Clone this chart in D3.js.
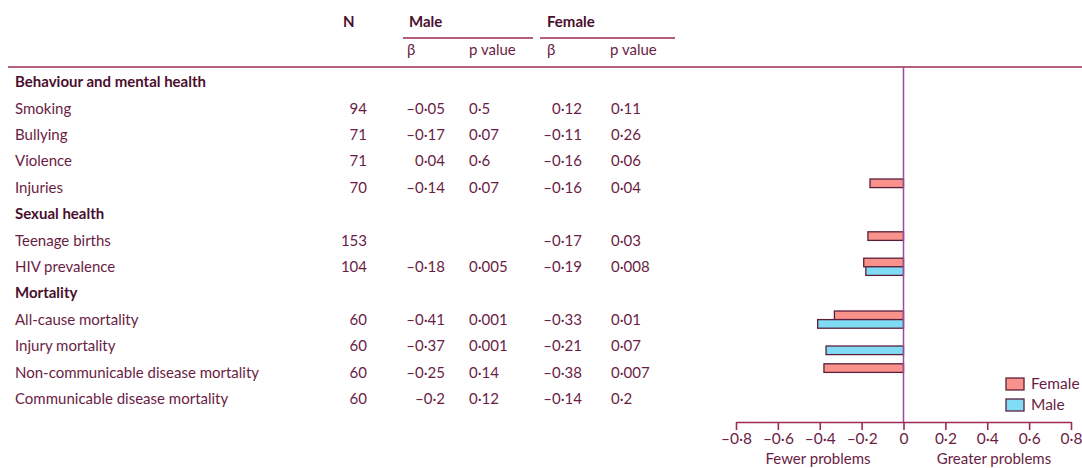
<!DOCTYPE html>
<html>
<head>
<meta charset="utf-8">
<script src="https://cdn.jsdelivr.net/npm/d3@7"></script>
<style>
  html, body { margin: 0; padding: 0; background: #fff; }
  svg { display: block; }
  text { font-family: Lato, "Open Sans", sans-serif; }
</style>
</head>
<body>
<svg id="chart" width="1082" height="468"></svg>
<script>
// Outcome rows (group headings included, in drawing order)
const rowLabels = [
  "Behaviour and mental health", "Smoking", "Bullying", "Violence", "Injuries",
  "Sexual health", "Teenage births", "HIV prevalence",
  "Mortality", "All-cause mortality", "Injury mortality",
  "Non-communicable disease mortality", "Communicable disease mortality"
];
const groupHeadings = ["Behaviour and mental health", "Sexual health", "Mortality"];
const nValues   = [null, 94, 71, 71, 70, null, 153, 104, null, 60, 60, 60, 60];
const maleBeta  = [null, -0.05, -0.17, 0.04, -0.14, null, null, -0.18, null, -0.41, -0.37, -0.25, -0.2];
const maleP     = [null, 0.5, 0.07, 0.6, 0.07, null, null, 0.005, null, 0.001, 0.001, 0.14, 0.12];
const femaleBeta = [null, 0.12, -0.11, -0.16, -0.16, null, -0.17, -0.19, null, -0.33, -0.21, -0.38, -0.14];
const femaleP    = [null, 0.11, 0.26, 0.06, 0.04, null, 0.03, 0.008, null, 0.01, 0.07, 0.007, 0.2];
const axisTicks = [-0.8, -0.6, -0.4, -0.2, 0, 0.2, 0.4, 0.6, 0.8];
const seriesNames = ["Female", "Male"];

const TEXT = "#6a1d44", BOLD = "#4a0f2e", RULE = "#9c2a55", ZERO = "#9a4aa0";
const FILL = { Female: "#f8928a", Male: "#80dcf4" };
const EDGE = "#5a1f3c";
const FS = 15;

const svg = d3.select("#chart");

// Lancet style numbers: en-dash minus and mid-dot decimal
const fmt = v => (v < 0 ? "\u2013" : "") + String(Math.abs(v)).replace(".", "\u00b7");

const y = d3.scaleLinear().domain([0, rowLabels.length - 1]).range([82, 398.8]);
const x = d3.scaleLinear().domain([-0.8, 0.8]).range([736, 1071]);

// Column headers
const head = svg.append("g").attr("font-size", FS);
head.append("text").attr("x", 343).attr("y", 22).attr("dy", "0.35em").attr("font-weight", 700).attr("fill", BOLD).text("N");
head.append("text").attr("x", 409).attr("y", 22).attr("dy", "0.35em").attr("font-weight", 700).attr("fill", BOLD).text("Male");
head.append("text").attr("x", 547).attr("y", 22).attr("dy", "0.35em").attr("font-weight", 700).attr("fill", BOLD).text("Female");
[[407, "\u03b2"], [469, "p value"], [547, "\u03b2"], [610, "p value"]].forEach(([cx, t]) => {
  head.append("text").attr("x", cx).attr("y", 50).attr("dy", "0.35em").attr("fill", TEXT).text(t);
});
svg.append("line").attr("x1", 403).attr("x2", 533).attr("y1", 38).attr("y2", 38).attr("stroke", RULE).attr("stroke-width", 1.4);
svg.append("line").attr("x1", 540).attr("x2", 675).attr("y1", 38).attr("y2", 38).attr("stroke", RULE).attr("stroke-width", 1.4);
svg.append("line").attr("x1", 8).attr("x2", 1082).attr("y1", 67).attr("y2", 67).attr("stroke", RULE).attr("stroke-width", 1.4);

// Table rows
const rows = svg.append("g").attr("font-size", FS).selectAll("g")
  .data(rowLabels.map((label, i) => ({ label, i })))
  .join("g")
  .attr("transform", d => `translate(0,${y(d.i)})`);

rows.append("text")
  .attr("x", 15).attr("dy", "0.35em")
  .attr("font-weight", d => groupHeadings.includes(d.label) ? 700 : 400)
  .attr("fill", d => groupHeadings.includes(d.label) ? BOLD : TEXT)
  .text(d => d.label);

const cell = (sel, xPos, anchor, getter) => sel.append("text")
  .attr("x", xPos).attr("dy", "0.35em").attr("text-anchor", anchor).attr("fill", TEXT)
  .text(d => { const v = getter(d.i); return v == null ? "" : fmt(v); });

cell(rows, 367, "end", i => nValues[i]);
cell(rows, 445, "end", i => maleBeta[i]);
cell(rows, 469, "start", i => maleP[i]);
cell(rows, 582, "end", i => femaleBeta[i]);
cell(rows, 611, "start", i => femaleP[i]);

// Bars for the significant associations (p < 0.05)
const barH = 8.6;
const bars = [];
rowLabels.forEach((label, i) => {
  if (femaleBeta[i] != null && femaleP[i] < 0.05) bars.push({ i, s: "Female", v: femaleBeta[i] });
  if (maleBeta[i] != null && maleP[i] < 0.05) bars.push({ i, s: "Male", v: maleBeta[i] });
});
svg.append("g").selectAll("rect").data(bars).join("rect")
  .attr("x", d => x(Math.min(0, d.v)))
  .attr("width", d => Math.abs(x(d.v) - x(0)))
  .attr("y", d => d.s === "Female" ? y(d.i) - barH : y(d.i))
  .attr("height", barH)
  .attr("fill", d => FILL[d.s])
  .attr("stroke", EDGE).attr("stroke-width", 1.3);

// Zero reference line
svg.append("line").attr("x1", x(0)).attr("x2", x(0)).attr("y1", 67).attr("y2", 422)
  .attr("stroke", ZERO).attr("stroke-width", 1.5);

// Bottom axis
const axis = d3.axisBottom(x).tickValues(axisTicks).tickSize(8).tickSizeOuter(0)
  .tickFormat(d => d === 0 ? "0" : fmt(+d.toFixed(1)));
const ax = svg.append("g").attr("transform", "translate(0,422)").call(axis);
ax.select(".domain").attr("stroke", RULE).attr("stroke-width", 1.6);
ax.selectAll(".tick line").attr("stroke", RULE).attr("stroke-width", 1.6);
ax.selectAll(".tick text").attr("fill", TEXT).attr("font-size", 15.5)
  .attr("font-family", "Lato, sans-serif").attr("y", 11);
svg.append("text").attr("x", 818).attr("y", 459).attr("dy", "0.35em").attr("text-anchor", "middle")
  .attr("font-size", FS).attr("fill", TEXT).text("Fewer problems");
svg.append("text").attr("x", 994).attr("y", 459).attr("dy", "0.35em").attr("text-anchor", "middle")
  .attr("font-size", FS).attr("fill", TEXT).text("Greater problems");

// Legend
const legend = svg.append("g").selectAll("g").data(seriesNames).join("g")
  .attr("transform", (d, k) => `translate(1006,${378 + k * 21})`);
legend.append("rect").attr("width", 18).attr("height", 12)
  .attr("fill", d => FILL[d]).attr("stroke", EDGE).attr("stroke-width", 1.3);
legend.append("text").attr("x", 25).attr("y", 6).attr("dy", "0.35em")
  .attr("font-size", 15.5).attr("fill", TEXT).text(d => d);
</script>
</body>
</html>
